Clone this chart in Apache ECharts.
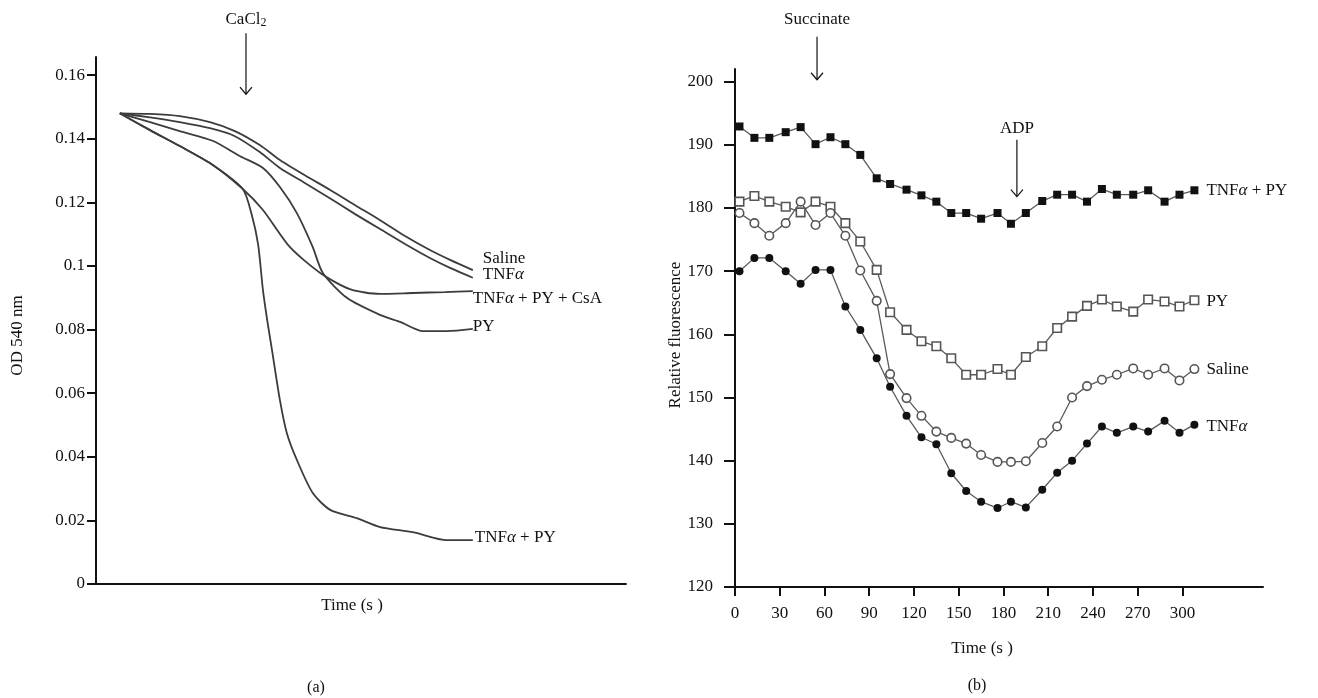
<!DOCTYPE html>
<html><head><meta charset="utf-8">
<script src="https://cdn.jsdelivr.net/npm/echarts@6/dist/echarts.min.js"></script>
<style>html,body{margin:0;padding:0;background:#fff}#c{width:1318px;height:698px}</style>
</head><body><div id="c"></div>
<script>
// ---------- Panel (a): OD 540 nm vs time (arbitrary time units) ----------
const aSaline = [[4.5,0.148],[10.2,0.1478],[15.8,0.1471],[21.5,0.1452],[26.2,0.1424],[30.9,0.1380],[34.7,0.1333],[39.4,0.1285],[44.2,0.1239],[48.9,0.1191],[53.6,0.1144],[58.3,0.1094],[63.0,0.1050],[66.8,0.1019],[71.1,0.0987]];
const aTnf = [[4.5,0.148],[10.2,0.1467],[15.8,0.1452],[21.5,0.1433],[26.2,0.1408],[30.9,0.1358],[34.7,0.1308],[39.4,0.1261],[44.2,0.1212],[48.9,0.1163],[53.6,0.1116],[58.3,0.1069],[63.0,0.1025],[66.8,0.0994],[71.1,0.0963]];
const aTnfPyCsa = [[4.5,0.148],[10.2,0.1427],[15.8,0.1377],[22.1,0.1317],[27.7,0.1242],[31.5,0.1176],[36.6,0.1059],[42.3,0.0978],[47.9,0.0927],[53.6,0.0912],[59.8,0.0915],[65.8,0.0918],[71.1,0.0921]];
const aPy = [[4.5,0.148],[10.2,0.1452],[15.8,0.1424],[22.1,0.1393],[27.2,0.1345],[31.5,0.1308],[34.7,0.1248],[37.9,0.1166],[40.9,0.1059],[42.8,0.0978],[47.4,0.0899],[53.6,0.0846],[57.4,0.0824],[61.7,0.0795],[66.2,0.0795],[71.1,0.0802]];
const aTnfPy = [[4.5,0.148],[10.2,0.1427],[15.8,0.1377],[22.1,0.1317],[27.7,0.1242],[29.4,0.1160],[30.6,0.1066],[31.5,0.0924],[32.3,0.0830],[33.2,0.0736],[34.7,0.0578],[36.0,0.0475],[37.9,0.0390],[40.9,0.0286],[44.2,0.0233],[49.2,0.0207],[53.6,0.0179],[59.8,0.0163],[66.2,0.0138],[71.1,0.0138]];
const aYTicks = [0,0.02,0.04,0.06,0.08,0.1,0.12,0.14,0.16];
const aCaCl2Time = 28.3;

// ---------- Panel (b): relative fluorescence vs time (s) ----------
const bTime = [3,13,23,34,44,54,64,74,84,95,104,115,125,135,145,155,165,176,185,195,206,216,226,236,246,256,267,277,288,298,308];
const bTnfPy = [192.9,191.1,191.1,192.0,192.8,190.1,191.2,190.1,188.4,184.7,183.8,182.9,182.0,181.0,179.2,179.2,178.3,179.2,177.5,179.2,181.1,182.1,182.1,181.0,183.0,182.1,182.1,182.8,181.0,182.1,182.8];
const bPy = [181.0,181.9,181.0,180.2,179.3,181.0,180.2,177.6,174.7,170.2,163.5,160.7,158.9,158.1,156.2,153.6,153.6,154.5,153.6,156.4,158.1,161.0,162.8,164.5,165.5,164.4,163.6,165.5,165.2,164.4,165.4];
const bSaline = [179.2,177.6,175.6,177.6,181.0,177.3,179.2,175.6,170.1,165.3,153.7,149.9,147.1,144.6,143.6,142.7,140.9,139.8,139.8,139.9,142.8,145.4,150.0,151.8,152.8,153.6,154.6,153.6,154.6,152.7,154.5];
const bTnf = [170.0,172.1,172.1,170.0,168.0,170.2,170.2,164.4,160.7,156.2,151.7,147.1,143.7,142.6,138.0,135.2,133.5,132.5,133.5,132.6,135.4,138.1,140.0,142.7,145.4,144.4,145.4,144.6,146.3,144.4,145.7];
const bXTicks = [0,30,60,90,120,150,180,210,240,270,300];
const bYTicks = [120,130,140,150,160,170,180,190,200];
const bEvents = [{name:'Succinate', t:55}, {name:'ADP', t:189}];

const FONT = 'Liberation Serif';
const FS = 17;
const rich = { i: { fontStyle: 'italic', fontFamily: FONT, fontSize: FS, color: '#111' } };
const chart = echarts.init(document.getElementById('c'));

function aLine(name, data, label, dy, dist) {
  return {
    type: 'line', name, data, xAxisIndex: 0, yAxisIndex: 0, symbol: 'none', smooth: 0.25,
    lineStyle: { color: '#3c3c3c', width: 1.8 }, animation: false,
    endLabel: { show: true, formatter: label, offset: [0, dy], distance: dist,
      fontFamily: FONT, fontSize: FS, color: '#111', rich }
  };
}
function bLine(name, vals, symbol, filled, label, dy) {
  return {
    type: 'line', name, data: bTime.map((t, i) => [t, vals[i]]), xAxisIndex: 1, yAxisIndex: 1,
    symbol, symbolSize: filled ? 8 : 8.5, showAllSymbol: true, animation: false,
    lineStyle: { color: '#5a5a5a', width: 1.3 },
    itemStyle: filled ? { color: '#111', borderWidth: 0 } : { color: '#fff', borderColor: '#555', borderWidth: 1.6 },
    endLabel: { show: true, formatter: label, offset: [0, dy], distance: 12,
      fontFamily: FONT, fontSize: FS, color: '#111', rich }
  };
}
const axisBase = {
  axisLine: { show: true, lineStyle: { color: '#111', width: 2 } },
  splitLine: { show: false },
  axisLabel: { fontFamily: FONT, fontSize: FS, color: '#111' },
  nameTextStyle: { fontFamily: FONT, fontSize: FS, color: '#111' }
};

chart.setOption({
  backgroundColor: '#fff',
  animation: false,
  grid: [
    { left: 96, top: 57, width: 530, height: 527 },
    { left: 735, top: 69, width: 528, height: 518 }
  ],
  xAxis: [
    Object.assign({}, axisBase, { type: 'value', gridIndex: 0, min: 0, max: 100,
      axisTick: { show: false }, axisLabel: { show: false },
      name: 'Time (s )', nameLocation: 'middle', nameGap: 13,
      nameTextStyle: { fontFamily: FONT, fontSize: FS, color: '#111', padding: [0, 18, 0, 0] } }),
    Object.assign({}, axisBase, { type: 'value', gridIndex: 1, min: 0, max: 354,
      axisTick: { show: true, length: 9, lineStyle: { color: '#111', width: 2 }, customValues: bXTicks },
      axisLabel: Object.assign({}, axisBase.axisLabel, { customValues: bXTicks, margin: 18 }),
      name: 'Time (s )', nameLocation: 'middle', nameGap: 53,
      nameTextStyle: { fontFamily: FONT, fontSize: FS, color: '#111', padding: [0, 34, 0, 0] } })
  ],
  yAxis: [
    Object.assign({}, axisBase, { type: 'value', gridIndex: 0, min: 0, max: 0.1657,
      axisTick: { show: true, length: 9, lineStyle: { color: '#111', width: 2 }, customValues: aYTicks },
      axisLabel: Object.assign({}, axisBase.axisLabel, { customValues: aYTicks, margin: 11 }),
      name: 'OD 540 nm', nameLocation: 'middle', nameGap: 70,
      nameTextStyle: { fontFamily: FONT, fontSize: FS, color: '#111', padding: [0, 30, 0, 0] } }),
    Object.assign({}, axisBase, { type: 'value', gridIndex: 1, min: 120, max: 202,
      axisTick: { show: true, length: 11, lineStyle: { color: '#111', width: 2 }, customValues: bYTicks },
      axisLabel: Object.assign({}, axisBase.axisLabel, { customValues: bYTicks, margin: 22 }),
      name: 'Relative fluorescence', nameLocation: 'middle', nameGap: 38,
      nameTextStyle: { fontFamily: FONT, fontSize: FS, color: '#111', padding: [0, 14, 0, 0] } })
  ],
  series: [
    aLine('Saline', aSaline, 'Saline', -12, 10),
    aLine('TNFα', aTnf, 'TNF{i|α}', -3, 10),
    aLine('TNFα + PY + CsA', aTnfPyCsa, 'TNF{i|α} + PY + CsA', 7, 0),
    aLine('PY', aPy, 'PY', -2, 0),
    aLine('TNFα + PY', aTnfPy, 'TNF{i|α} + PY', -3, 2),
    bLine('TNFα + PY', bTnfPy, 'rect', true, 'TNF{i|α} + PY', 0),
    bLine('PY', bPy, 'rect', false, 'PY', 1),
    bLine('Saline', bSaline, 'circle', false, 'Saline', 0),
    bLine('TNFα', bTnf, 'circle', true, 'TNF{i|α}', 2)
  ]
});

// Annotations (arrows + event labels, (a)/(b) captions)
function arrow(grid, x, yTop, yTip, text, gap) {
  const p1 = chart.convertToPixel({ gridIndex: grid }, [x, yTop]);
  const p2 = chart.convertToPixel({ gridIndex: grid }, [x, yTip]);
  return [
    { type: 'line', shape: { x1: p1[0], y1: p1[1], x2: p2[0], y2: p2[1] }, style: { stroke: '#111', lineWidth: 1.2 } },
    { type: 'polyline', shape: { points: [[p2[0] - 6, p2[1] - 7], [p2[0], p2[1]], [p2[0] + 6, p2[1] - 7]] }, style: { stroke: '#111', lineWidth: 1.2, fill: null } },
    { type: 'text', x: p1[0], y: p1[1] - gap, style: { text, fontFamily: FONT, fontSize: FS, fill: '#111', align: 'center', verticalAlign: 'middle',
      rich: { s: { fontFamily: FONT, fontSize: 12, fill: '#111', verticalAlign: 'bottom', padding: [8, 0, 0, 0] } } } }
  ];
}
const g = [];
g.push(...arrow(0, aCaCl2Time, 0.1732, 0.154, 'CaCl{s|2}', 14));
g.push(...arrow(1, bEvents[0].t, 207.1, 200.3, bEvents[0].name, 17));
g.push(...arrow(1, bEvents[1].t, 190.8, 181.8, bEvents[1].name, 11));
g.push({ type: 'text', x: 316, y: 688, style: { text: '(a)', fontFamily: FONT, fontSize: 16, fill: '#111', align: 'center', verticalAlign: 'middle' } });
g.push({ type: 'text', x: 977, y: 686, style: { text: '(b)', fontFamily: FONT, fontSize: 16, fill: '#111', align: 'center', verticalAlign: 'middle' } });
chart.setOption({ graphic: g });
</script>
</body></html>
